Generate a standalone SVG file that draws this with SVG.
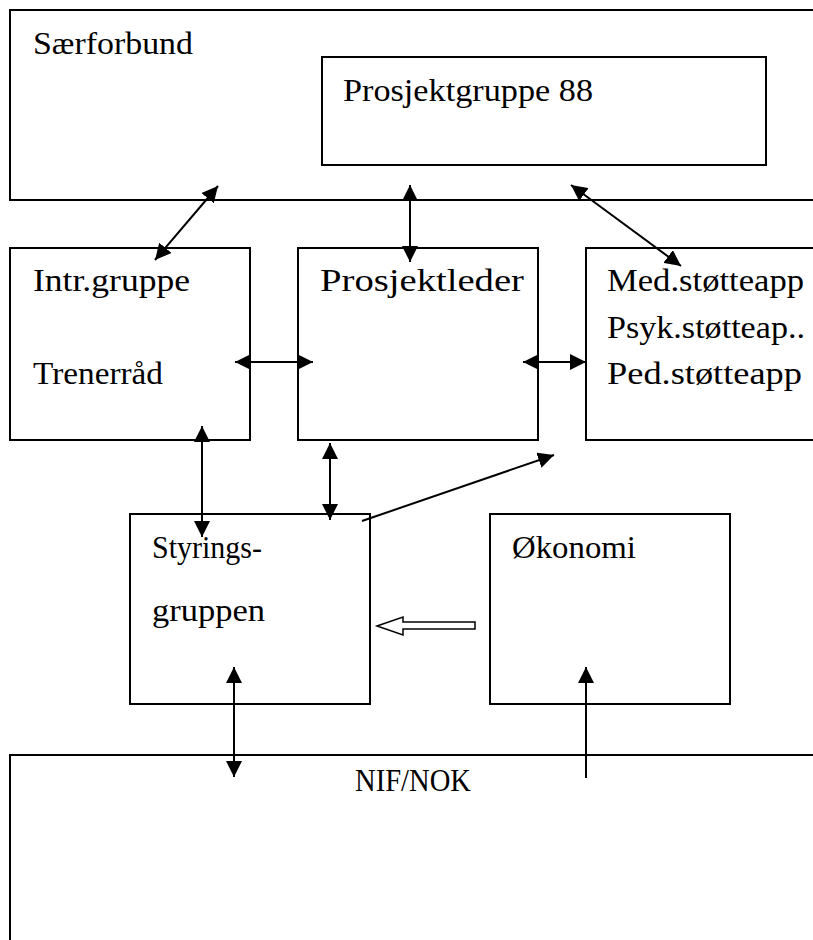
<svg xmlns="http://www.w3.org/2000/svg" width="813" height="940" viewBox="0 0 813 940">
<defs>
<marker id="ah" viewBox="0 0 10 10" refX="10" refY="5" markerWidth="16" markerHeight="16" markerUnits="userSpaceOnUse" orient="auto-start-reverse">
<path d="M0,0 L10,5 L0,10 z" fill="#000"/>
</marker>
<style>
.box{fill:#fff;stroke:#000;stroke-width:2}
.ln{fill:none;stroke:#000;stroke-width:2}
.t{font-family:"Liberation Serif","Times New Roman",serif;font-size:31px;fill:#000}
.c{stroke:#000;stroke-width:2;fill:none}
</style>
</defs>
<rect width="813" height="940" fill="#fff"/>
<g id="saerforbund">
<path class="ln" d="M814,10 H10 V200 H814"/>
<text class="t" x="33" y="54" textLength="160" lengthAdjust="spacingAndGlyphs">Særforbund</text>
</g>
<g id="prosjektgruppe">
<rect class="box" x="322" y="57" width="444" height="108"/>
<text class="t" x="343" y="101" textLength="250" lengthAdjust="spacingAndGlyphs">Prosjektgruppe 88</text>
</g>
<g id="intr">
<rect class="box" x="10" y="248" width="240" height="192"/>
<text class="t" x="33" y="291" textLength="157" lengthAdjust="spacingAndGlyphs">Intr.gruppe</text>
<text class="t" x="33" y="384" textLength="130" lengthAdjust="spacingAndGlyphs">Trenerråd</text>
</g>
<g id="prosjektleder">
<rect class="box" x="298" y="248" width="240" height="192"/>
<text class="t" x="320" y="291" textLength="204" lengthAdjust="spacingAndGlyphs">Prosjektleder</text>
</g>
<g id="stotte">
<path class="ln" d="M814,248 H586 V440 H814"/>
<text class="t" x="607" y="291" textLength="197" lengthAdjust="spacingAndGlyphs">Med.støtteapp</text>
<text class="t" x="607" y="338" textLength="198" lengthAdjust="spacingAndGlyphs">Psyk.støtteap..</text>
<text class="t" x="607" y="384" textLength="195" lengthAdjust="spacingAndGlyphs">Ped.støtteapp</text>
</g>
<g id="styring">
<rect class="box" x="130" y="514" width="240" height="190"/>
<text class="t" x="152" y="558" textLength="110" lengthAdjust="spacingAndGlyphs">Styrings-</text>
<text class="t" x="152" y="621" textLength="113" lengthAdjust="spacingAndGlyphs">gruppen</text>
</g>
<g id="okonomi">
<rect class="box" x="490" y="514" width="240" height="190"/>
<text class="t" x="512" y="558" textLength="124" lengthAdjust="spacingAndGlyphs">Økonomi</text>
</g>
<g id="nif">
<path class="ln" d="M814,755 H10 V941"/>
<text class="t" x="355" y="791" textLength="116" lengthAdjust="spacingAndGlyphs">NIF/NOK</text>
</g>
<g id="connectors">
<line class="c" x1="155" y1="260" x2="218" y2="186" marker-start="url(#ah)" marker-end="url(#ah)"/>
<line class="c" x1="410" y1="262" x2="410" y2="185" marker-start="url(#ah)" marker-end="url(#ah)"/>
<line class="c" x1="571" y1="185" x2="681" y2="266" marker-start="url(#ah)" marker-end="url(#ah)"/>
<line class="c" x1="235" y1="362" x2="313" y2="362" marker-start="url(#ah)" marker-end="url(#ah)"/>
<line class="c" x1="523" y1="362" x2="586" y2="362" marker-start="url(#ah)" marker-end="url(#ah)"/>
<line class="c" x1="202" y1="426" x2="202" y2="537" marker-start="url(#ah)" marker-end="url(#ah)"/>
<line class="c" x1="330" y1="443" x2="330" y2="520" marker-start="url(#ah)" marker-end="url(#ah)"/>
<line class="c" x1="362" y1="521" x2="554" y2="455" marker-end="url(#ah)"/>
<line class="c" x1="234" y1="667" x2="234" y2="777" marker-start="url(#ah)" marker-end="url(#ah)"/>
<line class="c" x1="586" y1="778" x2="586" y2="667" marker-end="url(#ah)"/>
<path d="M377,626 L403,617 L403,622 L475,622 L475,629 L403,629 L403,635 Z" fill="#fff" stroke="#000" stroke-width="1.5"/>
</g>
</svg>
